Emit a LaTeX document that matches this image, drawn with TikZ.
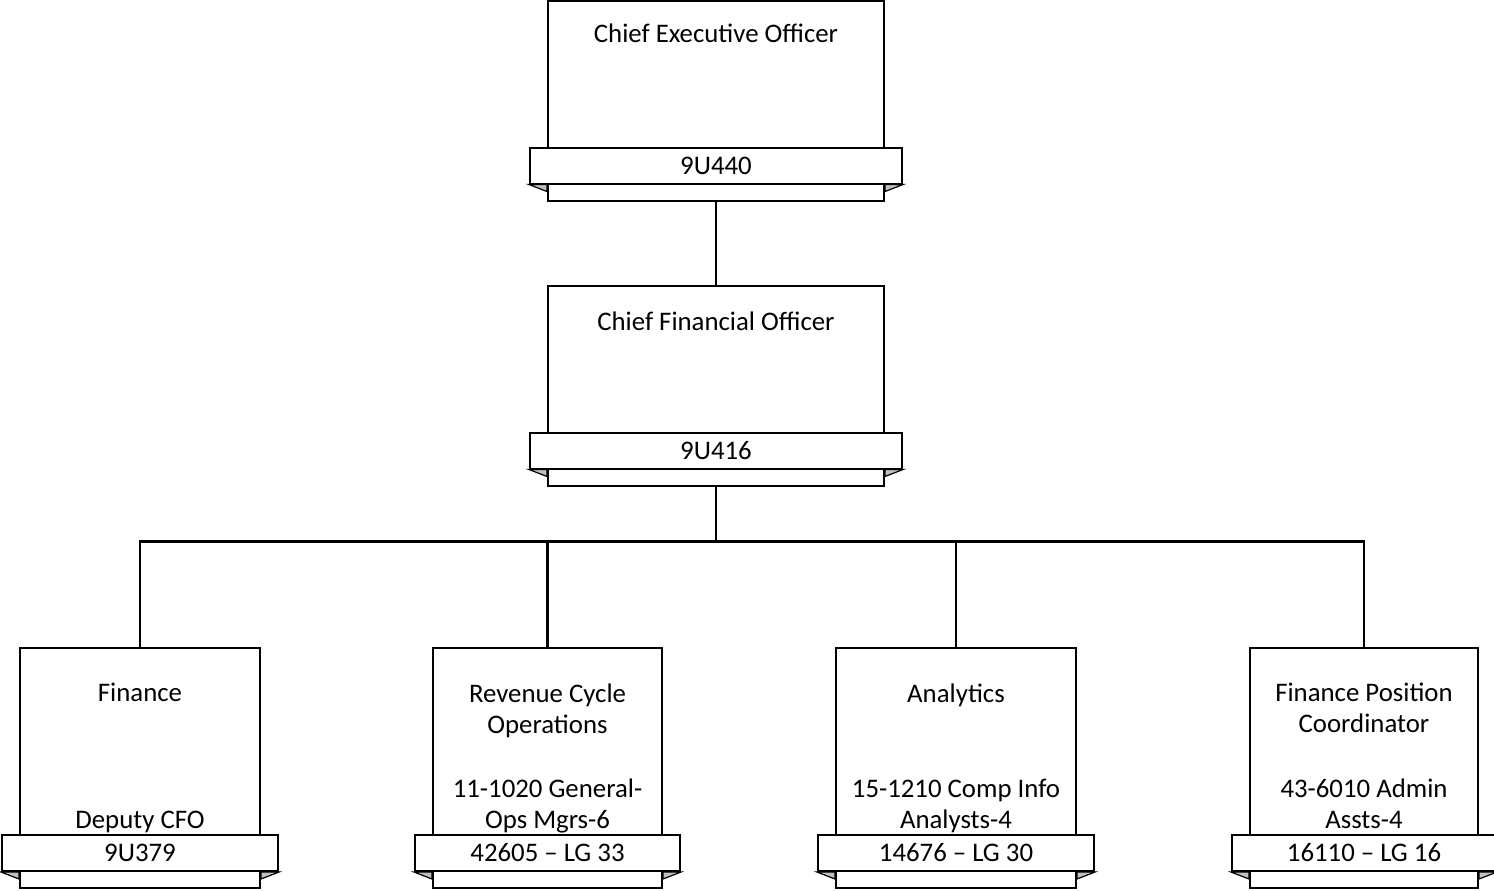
\documentclass[tikz,border=0pt]{standalone}
\usepackage{fontspec}
\setmainfont{Carlito}
\usetikzlibrary{calc}
\definecolor{foldgray}{RGB}{192,192,192}

\begin{document}
\begin{tikzpicture}[
  x=0.5pt, y=-0.5pt,
  post/.style={rectangle, draw, line width=1pt, fill=white, inner sep=0pt},
  idband/.style={rectangle, draw, line width=1pt, fill=white, inner sep=0pt, minimum height=18pt},
  fold/.style={draw, line width=0.6pt, fill=foldgray},
  title/.style={inner sep=0pt, align=center, anchor=north},
  note/.style={inner sep=0pt, align=center, anchor=base},
  link/.style={line width=1.2pt},
  font=\fontsize{13.4pt}{15.5pt}\selectfont
]
\useasboundingbox (0,0) rectangle (1494,890);

% Executive posts
\node[post, minimum width=168pt, minimum height=100pt] (ceo) at (716,100.5) {};
\node[post, minimum width=168pt, minimum height=100pt, below of=ceo, node distance=142.5pt] (cfo) {};

% Department posts
\node[post, minimum width=120pt, minimum height=120pt] (fin) at (140,768) {};
\node[post, minimum width=114.5pt, minimum height=120pt] (rev) at (547.5,768) {};
\node[post, minimum width=120pt, minimum height=120pt] (ana) at (956,768) {};
\node[post, minimum width=114pt, minimum height=120pt] (fpc) at (1364,768) {};

% Position number bands
\node[idband, minimum width=186pt] (ceo-id) at ([yshift=18pt]ceo.south) {9U440};
\node[idband, minimum width=186pt] (cfo-id) at ([yshift=18pt]cfo.south) {9U416};
\node[idband, minimum width=138pt] (fin-id) at ([yshift=18pt]fin.south) {9U379};
\node[idband, minimum width=132.5pt] (rev-id) at ([yshift=18pt]rev.south) {42605 -- LG 33};
\node[idband, minimum width=138pt] (ana-id) at ([yshift=18pt]ana.south) {14676 -- LG 30};
\node[idband, minimum width=132pt] (fpc-id) at ([yshift=18pt]fpc.south) {16110 -- LG 16};

\foreach \p in {ceo,cfo,fin,rev,ana,fpc}{
  \draw[fold] (\p-id.south west) -- (\p-id.south west -| \p.west) -- ++(0,7) -- cycle;
  \draw[fold] (\p-id.south east) -- (\p-id.south east -| \p.east) -- ++(0,7) -- cycle;
}

% Titles
\node[title] (ceo-t) at ([yshift=-12pt]ceo.north) {Chief Executive Officer};
\node[title] (cfo-t) at ([yshift=-13.5pt]cfo.north) {Chief Financial Officer};
\node[title] (fin-t) at ([yshift=-18pt]fin.north) {Finance};
\node[title] (rev-t) at ([yshift=-18pt]rev.north) {Revenue Cycle\\Operations};
\node[title] (ana-t) at ([yshift=-18pt]ana.north) {Analytics};
\node[title] (fpc-t) at ([yshift=-18pt]fpc.north) {Finance Position\\Coordinator};

\node[note] (fin-n) at ([yshift=3pt]fin-id.north) {Deputy CFO};
\node[note] (rev-n) at ([yshift=3pt]rev-id.north) {11-1020 General-\\Ops Mgrs-6};
\node[note] (ana-n) at ([yshift=3pt]ana-id.north) {15-1210 Comp Info\\Analysts-4};
\node[note] (fpc-n) at ([yshift=3pt]fpc-id.north) {43-6010 Admin\\Assts-4};

% Reporting lines
\coordinate (bus) at ([yshift=-27.5pt]cfo.south);
\draw[link] (ceo.south) -- (cfo.north);
\foreach \c in {fin,rev,ana,fpc}
  \draw[link] (cfo.south) -- (bus) -| (\c.north);
\end{tikzpicture}
\end{document}
